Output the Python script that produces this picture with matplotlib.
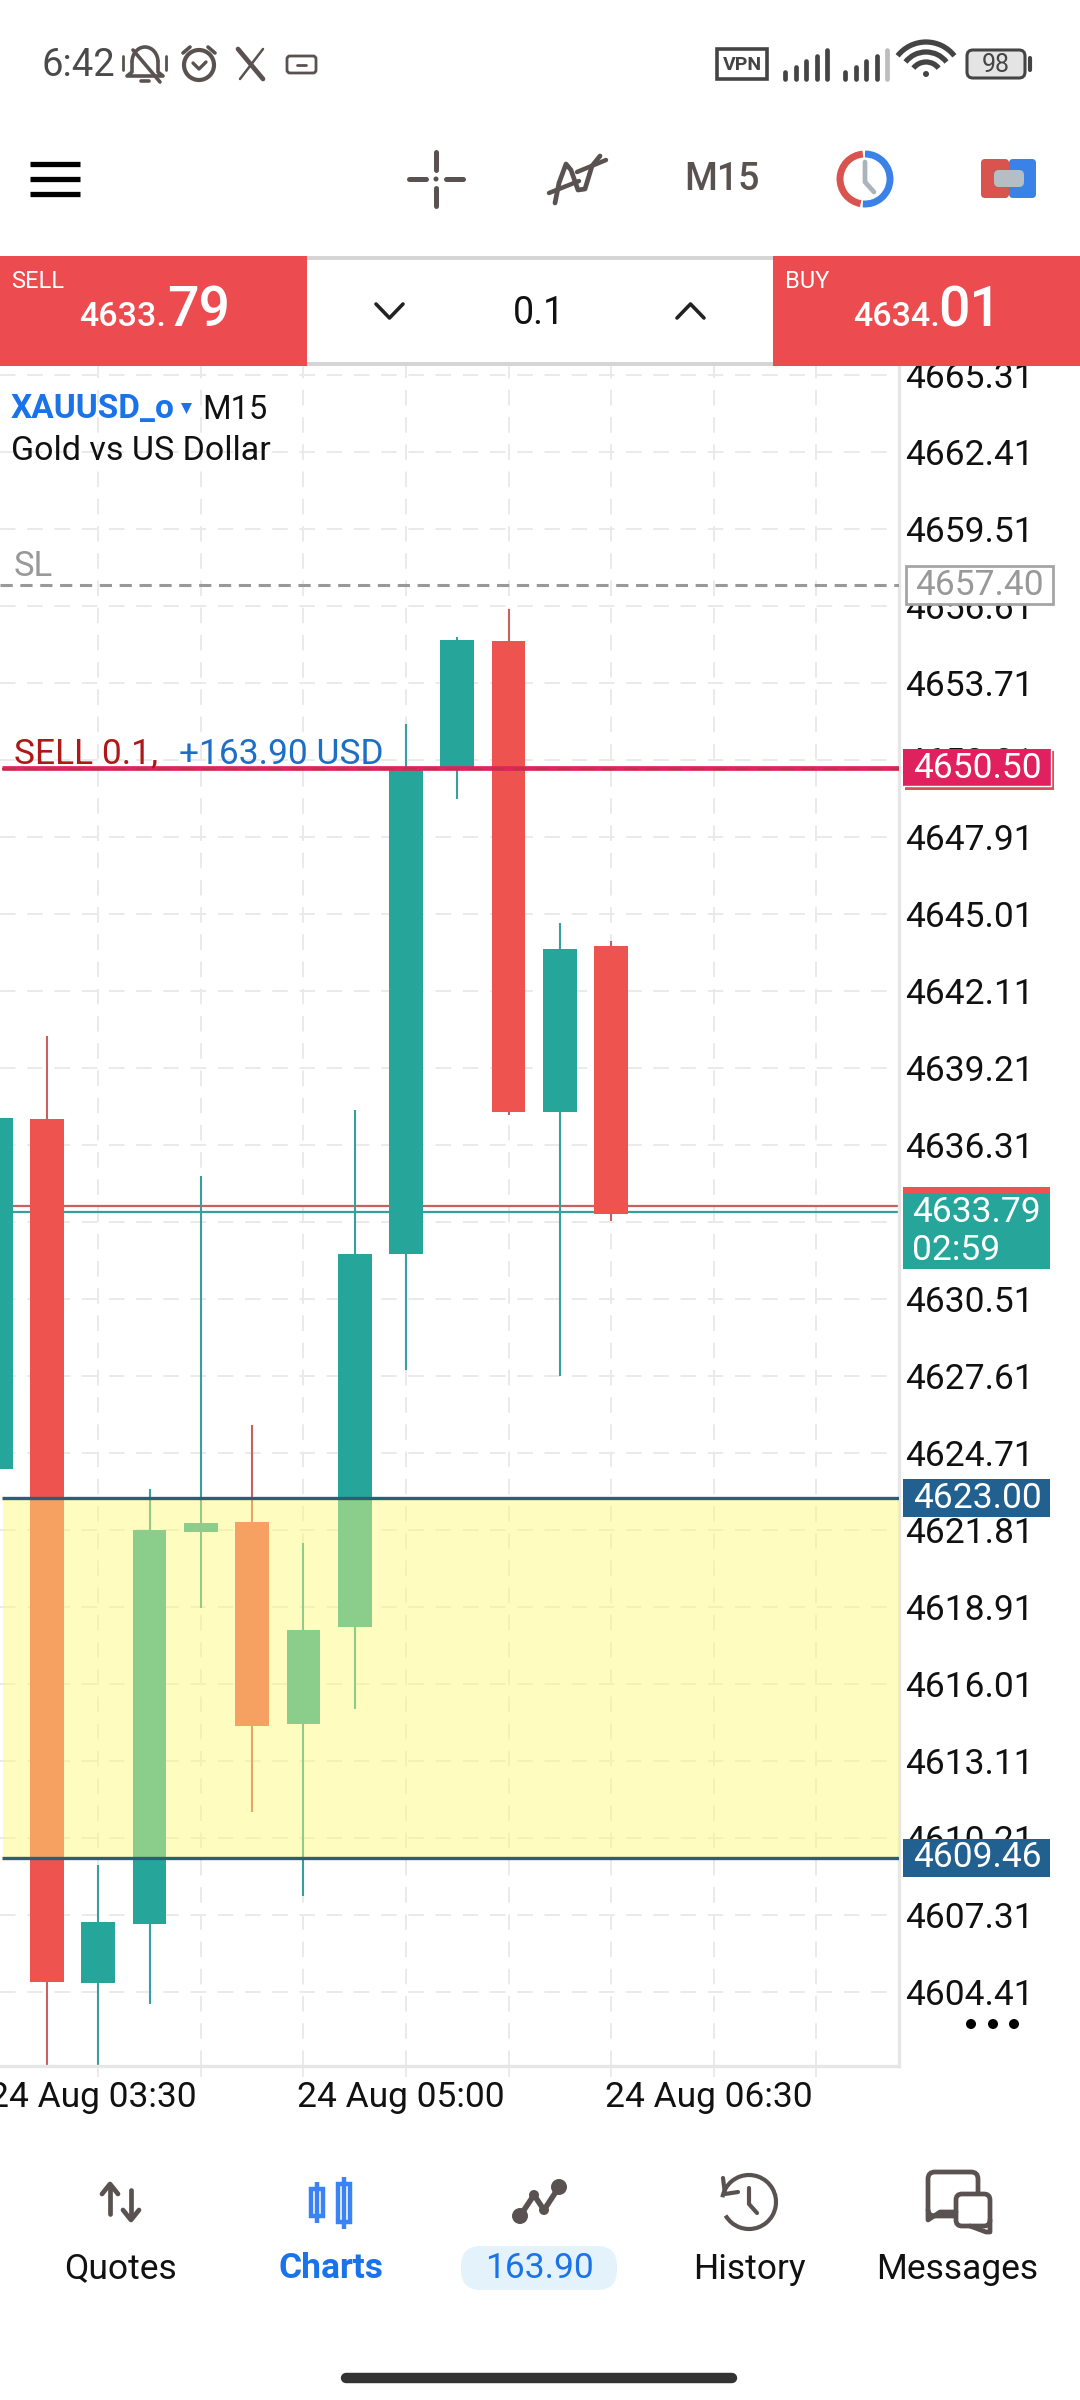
import matplotlib
matplotlib.use('Agg')
import matplotlib.pyplot as plt
from matplotlib.patches import Rectangle, Circle, Arc, FancyBboxPatch, Polygon

plt.rcParams['font.family'] = ['Roboto', 'DejaVu Sans']

# candles
candle_idx = [0, 1, 2, 3, 4, 5, 6, 7, 8, 9, 10, 11, 12]
opens = [4624.10, 4637.28, 4604.74, 4606.95, 4621.74, 4622.10, 4614.49, 4618.16, 4632.19, 4650.43, 4655.28, 4637.55, 4643.80]
closes = [4637.33, 4604.78, 4607.04, 4621.81, 4622.08, 4614.44, 4618.04, 4632.22, 4650.43, 4655.33, 4637.55, 4643.69, 4633.73]
highs = [4637.33, 4640.40, 4609.18, 4623.36, 4635.13, 4625.76, 4621.31, 4637.62, 4652.16, 4655.45, 4656.49, 4644.67, 4644.00]
lows = [4624.10, 4601.00, 4601.00, 4603.95, 4618.89, 4611.17, 4608.03, 4615.07, 4627.84, 4649.34, 4637.45, 4627.60, 4633.44]

price_ticks = [4665.31, 4662.41, 4659.51, 4656.61, 4653.71, 4650.81, 4647.91, 4645.01, 4642.11, 4639.21,
               4636.31, 4633.41, 4630.51, 4627.61, 4624.71, 4621.81, 4618.91, 4616.01, 4613.11, 4610.21,
               4607.31, 4604.41]
time_ticks = [2, 4, 6, 8, 10, 12, 14, 16]
time_labels = ['24 Aug 03:30', '', '', '24 Aug 05:00', '', '', '24 Aug 06:30', '']

bid = 4633.79
ask = 4634.01
sl_price = 4657.40
entry_price = 4650.50
zone_top = 4623.00
zone_bottom = 4609.46

TEAL = '#26A69A'
RED = '#EF5350'
TEAL_LINE = '#35A09C'
RED_LINE = '#C8605E'
GRID = '#EAEAEA'
ICON = '#5A5250'
BLUE = '#1A73E8'
W, H = 1080, 2400
AXIS_SIZE = 25.5

fig = plt.figure(figsize=(10.8, 24), dpi=100, facecolor='white')

# chart axes: x 0-899 px, y 364-2066 px
ax = fig.add_axes([0, 1 - 2066 / H, 899 / W, (2066 - 364) / H], zorder=1)
ax.set_xlim(0.084, 17.61)
ax.set_ylim(4601.62, 4665.73)
ax.set_axisbelow(True)
ax.yaxis.tick_right()
ax.set_yticks(price_ticks)
ax.set_yticklabels(['%.2f' % p for p in price_ticks], fontsize=AXIS_SIZE, color='#111111')
ax.set_xticks(time_ticks)
ax.set_xticklabels([])
for t, lab in zip(time_ticks, time_labels):
    if lab:
        ax.annotate(lab, xy=(t, 0), xycoords=('data', 'axes fraction'), xytext=(-3.6, -22.5),
                    textcoords='offset points', ha='center', va='center', fontsize=AXIS_SIZE,
                    color='#111111', annotation_clip=False)
ax.tick_params(axis='y', length=0, pad=4.5)
ax.tick_params(axis='x', length=8, width=1.4, color=GRID)
ax.grid(True, color=GRID, lw=1.4, linestyle=(0, (8, 6)))
for s in ['top', 'left']:
    ax.spines[s].set_visible(False)
for s in ['right', 'bottom']:
    ax.spines[s].set_color('#E6E6E6')
    ax.spines[s].set_linewidth(2.4)

# bid / ask lines behind candles
ax.plot([0.32, 17.61], [ask, ask], color=RED_LINE, lw=1.6, zorder=1.5)
ax.plot([0.32, 17.61], [bid, bid], color=TEAL_LINE, lw=1.6, zorder=1.5)

for i, o, c, hi, lo in zip(candle_idx, opens, closes, highs, lows):
    up = c >= o
    ax.vlines(i, lo, hi, color=TEAL_LINE if up else RED_LINE, lw=1.5, zorder=2, capstyle='butt')
    ax.bar(i, abs(c - o), bottom=min(o, c), width=0.657, color=TEAL if up else RED, zorder=3, linewidth=0)

# yellow zone over the candles
ax.axhspan(zone_bottom, zone_top, xmin=0.003, color='#FFFA78', alpha=0.47, lw=0, zorder=4)
ax.hlines([zone_top, zone_bottom], 0.12, 17.61, color='#2A5F7A', lw=2.4, zorder=5)

ax.axhline(sl_price, color='#999999', lw=2.2, linestyle=(0, (4, 2.5)), zorder=5)
ax.hlines(entry_price, 0.12, 17.61, color='#E0245E', lw=3.4, zorder=5)
ax.hlines(entry_price - 0.04, 0.12, 17.61, color='#C2304F', lw=1.6, linestyle=(0, (6, 4)), zorder=6)

# overlay in pixel coordinates for the app chrome
ui = fig.add_axes([0, 0, 1, 1], zorder=2)
ui.set_xlim(0, W)
ui.set_ylim(H, 0)
ui.axis('off')
ui.patch.set_alpha(0)


def py(price):
    return H - ax.transData.transform((1, price))[1]


def box(x0, y0, x1, y1, **kw):
    ui.add_patch(Rectangle((x0, y0), x1 - x0, y1 - y0, **kw))


def line(xs, ys, color=ICON, lw=3, **kw):
    ui.plot(xs, ys, color=color, lw=lw, solid_capstyle=kw.pop('cap', 'round'), **kw)


def rbox(x0, y0, x1, y1, r, **kw):
    ui.add_patch(FancyBboxPatch((x0 + r, y0 + r), x1 - x0 - 2 * r, y1 - y0 - 2 * r,
                                boxstyle='round,pad=%f' % r, **kw))


def txt(x, y, s, size, color='#111111', ha='left', va='center', weight='normal'):
    return ui.text(x, y, s, fontsize=size, color=color, ha=ha, va=va, fontweight=weight)


# price boxes on the axis
y = py(sl_price)
box(906, y - 19, 1053, y + 19, fc='white', ec='#A5A5A5', lw=2)
txt(979.5, y, '%.2f' % sl_price, AXIS_SIZE, '#999999', ha='center')
y = py(entry_price)
box(905, y - 17, 1054, y + 22, fc='#D8505A', ec='none')
box(903, y - 19, 1051, y + 18, fc='#E0205F', ec='none')
line([903, 1051, 1051], [y + 18, y + 18, y - 19], color='white', lw=1)
txt(977, y, '%.2f' % entry_price, AXIS_SIZE, 'white', ha='center')
for p in [zone_top, zone_bottom]:
    y = py(p)
    box(903, y - 19, 1050, y + 19, fc='#22608F', ec='none')
    txt(977, y, '%.2f' % p, AXIS_SIZE, 'white', ha='center')
box(903, 1187, 1050, 1193, fc=RED, ec='none')
box(903, 1193, 1050, 1269, fc=TEAL, ec='none')
txt(912, 1212, '%.2f' % bid, AXIS_SIZE, 'white')
txt(912, 1250, '02:59', AXIS_SIZE, 'white')
for dx in [971, 993, 1014]:
    ui.add_patch(Circle((dx, 2024), 5, fc='black', ec='none'))

# chart captions
txt(11, 409, 'XAUUSD_o', 24, BLUE, weight='bold')
ui.add_patch(Polygon([[181, 403], [192, 403], [186.5, 414]], fc=BLUE, ec='none'))
txt(202, 410, 'M15', 23.5)
txt(11, 451, 'Gold vs US Dollar', 24.5)
txt(14, 566, 'SL', 25, '#999999')
txt(14, 754, 'SELL 0.1,', 25.5, '#B01818')
txt(179, 754, '+163.90 USD', 25.5, '#1E6FC4')

# order panel
box(0, 256, W, 366, fc='white', ec='none')
box(307, 256, 773, 260, fc='#D5D5D5', ec='none')
box(307, 362, 773, 366, fc='#D5D5D5', ec='none')
box(0, 256, 307, 366, fc='#EC4C50', ec='none')
box(773, 256, W, 366, fc='#EC4C50', ec='none')
txt(11, 282, 'SELL', 17, 'white')
txt(79, 317, '4633.', 24.5, 'white', weight='medium')
txt(167, 311, '79', 40, 'white', weight='medium')
txt(785, 282, 'BUY', 17, 'white')
txt(853, 317, '4634.', 24.5, 'white', weight='medium')
txt(938, 311, '01', 40, 'white', weight='medium')
txt(539, 314, '0.1', 27, ha='center')
line([376, 389.5, 403], [304, 318, 304], color='#222222', lw=2.6)
line([677, 690.5, 704], [318, 304, 318], color='#222222', lw=2.6)

# status bar
txt(41, 65, '6:42', 27.5, '#4A4A4A')
ui.add_patch(Arc((145, 62), 26, 30, theta1=180, theta2=360, ec=ICON, lw=2.6))
line([132, 132, 127, 163, 158, 158], [62, 72, 76, 76, 72, 62], lw=2.6)
line([133, 160], [50, 82], lw=2.6)
line([141, 149], [81, 81], lw=2.6)
line([123, 123], [56, 70], lw=2)
line([166, 166], [56, 70], lw=2)
ui.add_patch(Circle((199, 65), 15, fc='none', ec=ICON, lw=3))
line([193, 199, 206], [63, 69, 62], lw=2.4)
line([183, 190], [53, 47], lw=2.6)
line([208, 215], [47, 53], lw=2.6)
line([238, 263], [49, 79], lw=3.4)
line([263, 240], [49, 79], lw=1.8)
rbox(287, 56, 316, 73, 3, fc='none', ec=ICON, lw=2)
line([297, 306], [64.5, 64.5], lw=2)
box(717, 49, 767, 79, fc='none', ec='#444444', lw=2.6)
txt(742, 65, 'VPN', 14, '#444444', ha='center', weight='bold')
for x0, last in [(782, '#444444'), (842, '#BDBDBD')]:
    for k in range(5):
        col = last if k == 4 else '#444444'
        line([x0 + 3 + k * 10.5] * 2, [79, 72 - k * 5.5], color=col, lw=3.4)
for r, a in [(31, 2.8), (21, 2.8), (11, 2.8)]:
    ui.add_patch(Arc((926, 78), 2 * r + 10, 2 * r + 10, theta1=218, theta2=322, ec='#444444', lw=a + 1))
ui.add_patch(Circle((926, 74), 3, fc='#444444', ec='none'))
rbox(967, 50, 1025, 78, 6, fc='#E4E4E4', ec='#444444', lw=2.2)
txt(996, 65, '98', 18, '#444444', ha='center')
line([1030, 1030], [58, 70], color='#444444', lw=3)

# toolbar
for yy in [164, 179, 194]:
    line([30, 80], [yy, yy], color='black', lw=3.8, cap='butt')
line([409, 426], [179, 179], lw=3.6)
line([446, 463], [179, 179], lw=3.6)
line([436, 436], [152, 170], lw=3.6)
line([436, 436], [188, 206], lw=3.6)
ui.add_patch(Circle((436, 179), 2.5, fc=ICON, ec='none'))
line([555, 559, 566, 571, 578, 585, 592, 600], [203, 183, 164, 170, 190, 189, 166, 156], lw=3.4)
line([549, 579], [193, 181], lw=3.2)
line([577, 606], [172, 160], lw=3.2)
txt(722, 180, 'M15', 27, ICON, ha='center', weight='medium')
ui.add_patch(Arc((865, 179), 50, 50, theta1=100, theta2=265, ec='#D9534F', lw=5))
ui.add_patch(Arc((865, 179), 50, 50, theta1=270, theta2=95, ec='#3B82E8', lw=5))
line([865, 865, 874], [162, 182, 192], color='#A9B4BC', lw=3.4)
rbox(981, 159, 1009, 198, 4, fc='#D9534F', ec='none')
rbox(1009, 159, 1036, 198, 4, fc='#3B82E8', ec='none')
rbox(994, 170, 1024, 187, 5, fc='#B4BEC4', ec='none')

# bottom navigation
NAV_SIZE = 25.5
txt(121, 2269, 'Quotes', NAV_SIZE, ha='center')
txt(331, 2269, 'Charts', NAV_SIZE, BLUE, ha='center', weight='bold')
rbox(461, 2246, 617, 2290, 20, fc='#E3F2FB', ec='none')
txt(539, 2269, '163.90', NAV_SIZE, BLUE, ha='center')
txt(749, 2269, 'History', NAV_SIZE, ha='center')
txt(957, 2269, 'Messages', NAV_SIZE, ha='center')

line([110, 110], [2186, 2214], lw=3.4)
line([102, 110, 118], [2194, 2184, 2194], lw=3.4)
line([131, 131], [2190, 2218], lw=3.4)
line([123, 131, 139], [2210, 2220, 2210], lw=3.4)

for cx, y0, y1 in [(317, 2182, 2223), (344, 2177, 2229)]:
    line([cx, cx], [y0, y1], color='#3B82F6', lw=3.2, cap='butt')
    box(cx - 6, y0 + 7, cx + 6, y1 - 7, fc='white', ec='#3B82F6', lw=3.2)

nx = [520, 534, 544, 559]
ny = [2216, 2195, 2210, 2187]
line(nx, ny, lw=4)
for a, b, r in zip(nx, ny, [8, 5, 5, 8]):
    ui.add_patch(Circle((a, b), r, fc=ICON, ec='none'))

ui.add_patch(Arc((749, 2202), 54, 54, theta1=190, theta2=150, ec=ICON, lw=3))
line([723, 725, 738], [2178, 2194, 2192], lw=3)
line([749, 749, 757], [2188, 2204, 2213], lw=3)

rbox(928, 2172, 978, 2216, 7, fc='none', ec=ICON, lw=3.4)
rbox(956, 2194, 990, 2226, 6, fc='white', ec=ICON, lw=3.4)
line([928, 928, 940, 956], [2210, 2220, 2212, 2212], lw=3.4)
line([970, 986, 990, 990], [2226, 2232, 2232, 2220], lw=3.4)

line([346, 732], [2378, 2378], color='#333333', lw=7.5)

fig.savefig('out.png', dpi=100)
